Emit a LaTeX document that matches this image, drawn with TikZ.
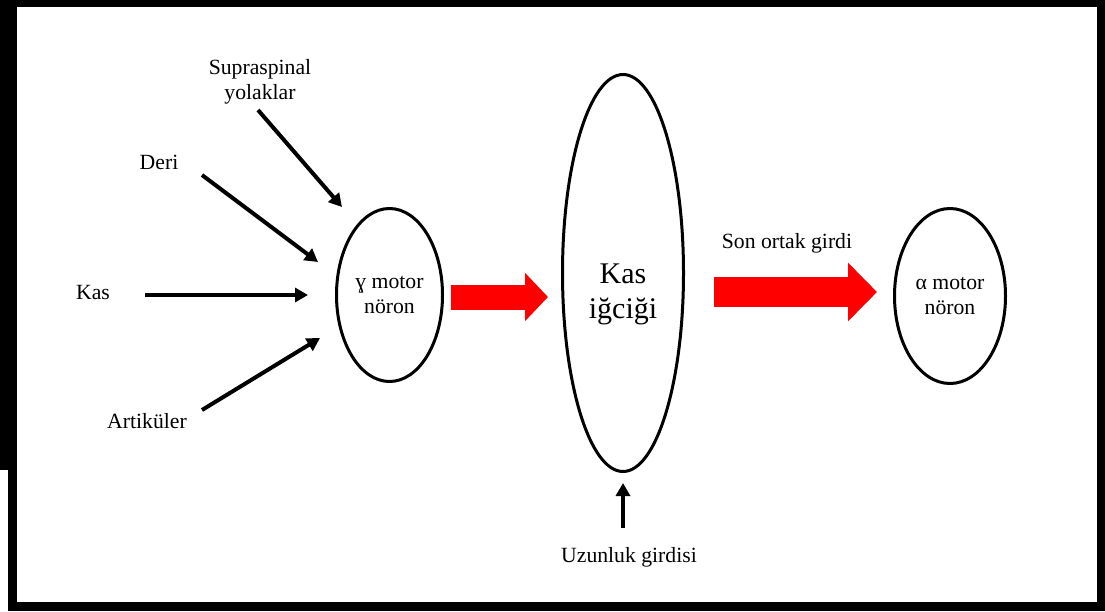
\documentclass[tikz,border=0pt]{standalone}
\usepackage{fontspec}
\setmainfont{Liberation Serif}
\usetikzlibrary{arrows.meta,shapes.geometric}
\begin{document}
\begin{tikzpicture}[x=1pt,y=-1pt,line width=3pt,
  neuron/.style={draw,ellipse,inner sep=0pt,line width=3pt},
  lbl/.style={font=\fontsize{21.7}{25}\selectfont,align=center,inner sep=0pt},
  inarrow/.style={line width=4pt,-{Triangle[length=13pt,width=14pt]}},
  redarrow/.style={red,line width=#1}]
  \useasboundingbox (0,0) rectangle (1105,611);
  \fill (0,0) rectangle (1105,611);
  \fill[white] (17,7) rectangle (1097,602);
  \fill[white] (0,470) rectangle (8,611);

  \node[neuron,minimum width=106,minimum height=173,lbl] (gm) at (389.5,295) {ɣ motor\\nöron};
  \node[neuron,minimum width=121,minimum height=397] (ki) at (623,273) {};
  \node[lbl,font=\fontsize{30}{35}\selectfont] (kit) at (623,294) {Kas\\iğciği};
  \node[neuron,minimum width=111,minimum height=175,lbl] (am) at (950,296) {α motor\\nöron};

  \node[lbl] (sp) at (260,82) {Supraspinal\\yolaklar};
  \node[lbl] (de) at (159,162) {Deri};
  \node[lbl] (ka) at (93,292) {Kas};
  \node[lbl] (ar) at (147,421) {Artiküler};
  \node[lbl] (so) at (787,243) {Son ortak girdi};
  \node[lbl] (uz) at (629,557) {Uzunluk girdisi};

  \coordinate (sp-a) at (258,110);
  \coordinate (sp-b) at (342,207);
  \coordinate (de-a) at (202,175);
  \coordinate (de-b) at (318,262);
  \coordinate (ka-a) at (145,295);
  \coordinate (ka-b) at (308,295);
  \coordinate (ar-a) at (202,410);
  \coordinate (ar-b) at (320,338);
  \coordinate (uz-a) at (623,528);
  \coordinate (uz-b) at (623,483);
  \draw[inarrow] (sp-a)--(sp-b);
  \draw[inarrow] (de-a)--(de-b);
  \draw[inarrow] (ka-a)--(ka-b);
  \draw[inarrow] (ar-a)--(ar-b);
  \draw[inarrow] (uz-a)--(uz-b);

  \draw[redarrow=25pt,-{Triangle[length=23pt,width=47pt]}]
    ([shift={(7,2)}]gm.east)--([shift={(-13,2)}]gm.east-|ki.west);
  \draw[redarrow=30pt,-{Triangle[length=29pt,width=57pt]}]
    ([shift={(29,-4)}]ki.east|-am.west)--([shift={(-16,-4)}]am.west);
\end{tikzpicture}
\end{document}
